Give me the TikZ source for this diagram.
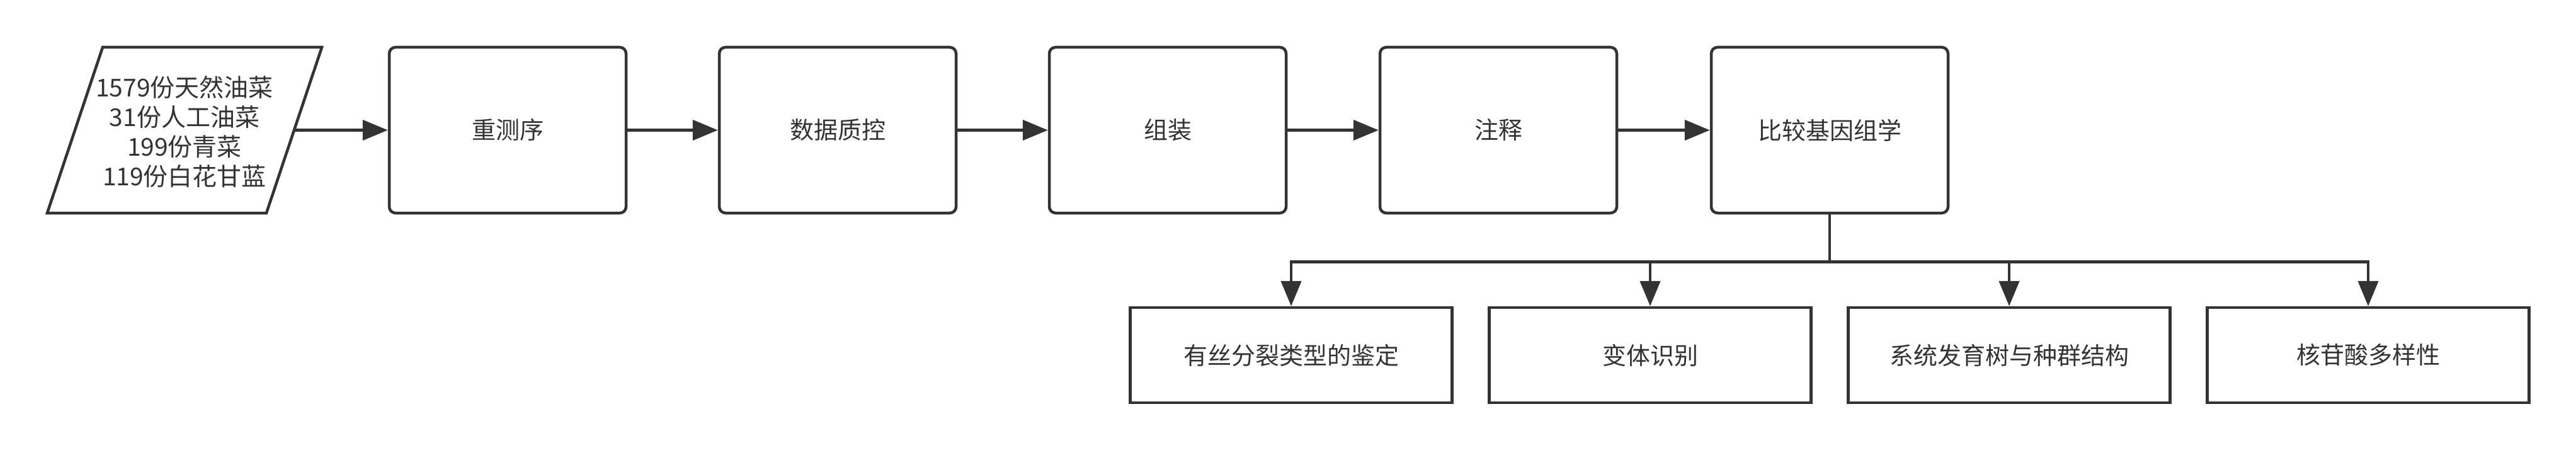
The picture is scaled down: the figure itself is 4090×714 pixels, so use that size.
\documentclass[tikz,border=0pt]{standalone}
\usepackage{fontspec}
\setmainfont{Noto Sans CJK SC}
\usetikzlibrary{arrows.meta}
\definecolor{ink}{HTML}{333333}
\begin{document}
\begin{tikzpicture}[x=1pt,y=1pt,
  font=\fontsize{38}{43}\selectfont,
  topbox/.style={draw=ink, text=ink, line width=4.5pt, rounded corners=10pt, minimum width=376pt, minimum height=263pt, inner sep=0pt},
  botbox/.style={draw=ink, text=ink, line width=4.5pt, minimum width=511pt, minimum height=151pt, inner sep=0pt},
  conn/.style={draw=ink, line width=4.5pt, -{Triangle[length=40pt,width=32pt]}},
  busline/.style={draw=ink, line width=4.5pt}]
\useasboundingbox (0,0) rectangle (4090,-714);
\fill[white] (0,0) rectangle (4090,-714);
% input parallelogram
\coordinate (pa) at (163,-75);
\coordinate (pb) at (511,-75);
\coordinate (pc) at (423,-338);
\coordinate (pd) at (75,-338);
\draw[ink, line width=4.5pt, line join=miter] (pa)--(pb)--(pc)--(pd)--cycle;
\node[text=ink, align=center, inner sep=0pt, font=\fontsize{39}{47}\selectfont] (src) at (293,-209) {1579份天然油菜\\31份人工油菜\\199份青菜\\119份白花甘蓝};
\coordinate (srcout) at (467,-206.5);
% top row
\node[topbox] (n1) at (806,-206.5) {重测序};
\node[topbox] (n2) at (1330,-206.5) {数据质控};
\node[topbox] (n3) at (1854,-206.5) {组装};
\node[topbox] (n4) at (2379,-206.5) {注释};
\node[topbox] (n5) at (2905,-206.5) {比较基因组学};
% bottom row
\node[botbox] (b1) at (2050,-563.5) {有丝分裂类型的鉴定};
\node[botbox] (b2) at (2620,-563.5) {变体识别};
\node[botbox] (b3) at (3190,-563.5) {系统发育树与种群结构};
\node[botbox] (b4) at (3760,-563.5) {核苷酸多样性};
% connectors
\draw[conn] (srcout) -- (n1.west);
\draw[conn] (n1) -- (n2);
\draw[conn] (n2) -- (n3);
\draw[conn] (n3) -- (n4);
\draw[conn] (n4) -- (n5);
\draw[busline] (n5.south) -- ++(0,-75) coordinate (bj);
\draw[conn] (bj) -| (b1.north);
\draw[conn] (bj) -| (b2.north);
\draw[conn] (bj) -| (b3.north);
\draw[conn] (bj) -| (b4.north);
\end{tikzpicture}
\end{document}
